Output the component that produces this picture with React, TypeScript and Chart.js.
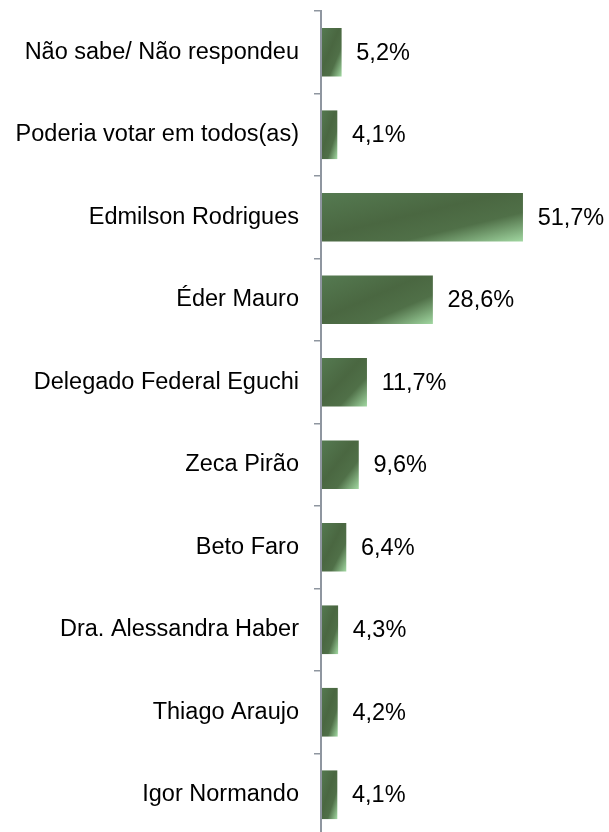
import React, { useEffect, useRef } from 'react';
import { Chart, registerables } from 'chart.js';

Chart.register(...registerables);

const categories = [
  'Não sabe/ Não respondeu',
  'Poderia votar em todos(as)',
  'Edmilson Rodrigues',
  'Éder Mauro',
  'Delegado Federal Eguchi',
  'Zeca Pirão',
  'Beto Faro',
  'Dra. Alessandra Haber',
  'Thiago Araujo',
  'Igor Normando',
];
const values = [5.2, 4.1, 51.7, 28.6, 11.7, 9.6, 6.4, 4.3, 4.2, 4.1];
const valueLabels = values.map((v) => v.toFixed(1).replace('.', ',') + '%');

const FONT_FAMILY = '"Liberation Sans", Arial, sans-serif';
const FONT_SIZE = 23.5;
const BAR_T = 48;

function barFill(ctx: any) {
  const chart = ctx.chart;
  const i = ctx.dataIndex;
  const xs = chart.scales && chart.scales.x;
  const ys = chart.scales && chart.scales.y;
  if (i == null || !xs || !ys || !chart.chartArea) return '#4a6741';
  const L = xs.getPixelForValue(0);
  const R = xs.getPixelForValue(values[i]);
  const cy = ys.getPixelForValue(i);
  const T = cy - BAR_T / 2;
  const w = Math.max(R - L, 1);
  const h = BAR_T;
  const t = 2 / (1 / (w * w) + 1 / (h * h));
  const g = chart.ctx.createLinearGradient(L, T, L + t / w, T + t / h);
  g.addColorStop(0, '#557a51');
  g.addColorStop(0.45, '#4a6741');
  g.addColorStop(0.7, '#507048');
  g.addColorStop(1, '#a0d6a0');
  return g;
}

const valueLabelPlugin = {
  id: 'valueLabels',
  afterDatasetsDraw(chart: any) {
    const meta = chart.getDatasetMeta(0);
    const c = chart.ctx;
    c.save();
    c.font = `${FONT_SIZE}px ${FONT_FAMILY}`;
    c.fillStyle = '#000';
    c.textBaseline = 'middle';
    c.textAlign = 'left';
    meta.data.forEach((el: any, i: number) => {
      c.fillText(valueLabels[i], el.x + 15, el.y + 1);
    });
    c.restore();
  },
};

export default function App() {
  const ref = useRef<HTMLCanvasElement>(null);
  useEffect(() => {
    if (!ref.current) return;
    const chart = new Chart(ref.current, {
      type: 'bar',
      data: {
        labels: categories,
        datasets: [
          {
            data: values,
            backgroundColor: barFill,
            barThickness: BAR_T,
            borderWidth: 0,
          },
        ],
      },
      options: {
        indexAxis: 'y',
        responsive: false,
        animation: false,
        layout: { padding: { top: 11, right: 54, bottom: 0, left: 0 } },
        plugins: { legend: { display: false }, tooltip: { enabled: false } },
        scales: {
          x: { display: false, min: 0, max: 60 },
          y: {
            grid: {
              offset: true,
              drawOnChartArea: false,
              drawTicks: true,
              tickLength: 7,
              color: '#8f96a0',
              lineWidth: 1.5,
            },
            border: { display: true, color: '#8f96a0', width: 2, z: 1 },
            ticks: {
              color: '#000',
              padding: 15,
              font: { family: FONT_FAMILY, size: FONT_SIZE },
            },
            afterFit: (s: any) => {
              s.width = 321;
              s.paddingTop = 0;
              s.paddingBottom = 0;
            },
          },
        },
      },
      plugins: [valueLabelPlugin],
    } as any);
    return () => chart.destroy();
  }, []);
  return (
    <div style={{ position: 'fixed', left: 0, top: 0, width: 609, height: 832, overflow: 'hidden', background: '#fff' }}>
      <canvas ref={ref} width={609} height={836} style={{ display: 'block' }} />
    </div>
  );
}
